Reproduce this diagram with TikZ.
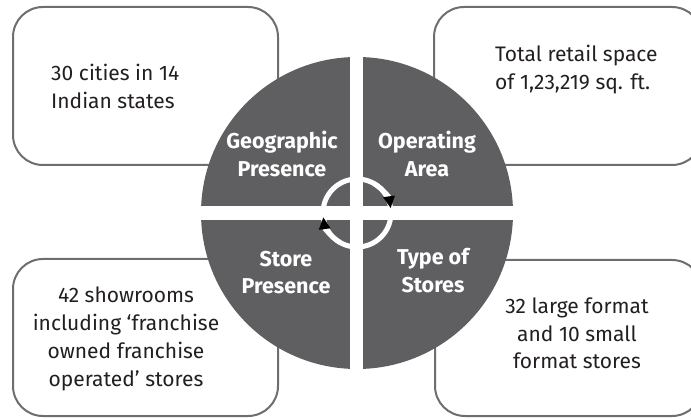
\documentclass[tikz,border=0pt]{standalone}
\usepackage{fontspec}
\setmainfont{Fira Sans}
\usetikzlibrary{arrows.meta}
\definecolor{boxgray}{HTML}{6E6E70}
\definecolor{diskgray}{HTML}{5F5F61}
\definecolor{txt}{HTML}{231F20}
\tikzset{
  infobox/.style={draw=boxgray, line width=2pt, rounded corners=30pt, fill=white},
  infotext/.style={inner sep=0pt, text=txt, font=\fontsize{21}{28}\selectfont},
  quadlabel/.style={inner sep=0pt, text=white, align=center, font=\bfseries\fontsize{21.5}{28}\selectfont},
  ringarrow/.style={draw=white, line width=5pt, -{Triangle[length=12pt,width=11pt,color=black]}}
}
\begin{document}
\begin{tikzpicture}[x=1pt,y=1pt]
\useasboundingbox (0,0) rectangle (691,418);
\clip (0,0) rectangle (691,418);
% boxes
\draw[infobox] (13,253) rectangle (278,411);
\draw[infobox] (434,253) rectangle (702,411);
\draw[infobox] (13,2) rectangle (278,159);
\draw[infobox] (435,2) rectangle (702,158);
% box texts (anchor base = baseline of last line)
\node[infotext, anchor=base west, align=left] (tl) at (51,309) {30 cities in 14\\Indian states};
\node[infotext, anchor=base west, align=left] (tr) at (495,328) {Total retail space\\of 1,23,219 sq. ft.};
\node[infotext, anchor=base, align=center, font=\fontsize{21}{27.7}\selectfont] (bl) at (126,32) {42 showrooms\\including ‘franchise\\owned franchise\\operated’ stores};
\node[infotext, anchor=base, align=center] (br) at (577,49) {32 large format\\and 10 small\\format stores};
% disk
\coordinate (c) at (357,205);
\fill[diskgray] (c) circle (156);
\fill[white] (350,40) rectangle (363,370);
\fill[white] (195,198) rectangle (520,212);
\draw[white, line width=5pt] (c) circle (34);
\draw[ringarrow] ([shift={(60:34)}]c) arc (60:8:34);
\draw[ringarrow] ([shift={(240:34)}]c) arc (240:187:34);
% labels
\node[quadlabel, anchor=base] (geo) at (282,241) {Geographic\\Presence};
\node[quadlabel, anchor=base] (op) at (427,241) {Operating\\Area};
\node[quadlabel, anchor=base] (st) at (286,124) {Store\\Presence};
\node[quadlabel, anchor=base] (ty) at (433,125) {Type of\\Stores};
\end{tikzpicture}
\end{document}
